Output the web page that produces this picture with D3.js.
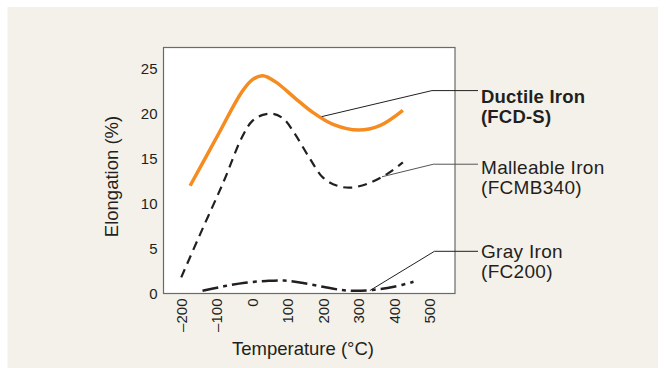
<!DOCTYPE html>
<html><head><meta charset="utf-8">
<script src="https://cdn.jsdelivr.net/npm/d3@7"></script>
<style>
body{margin:0;background:#fff}
svg{display:block}
text{font-family:"Liberation Sans",Arial,Helvetica,sans-serif;fill:#231f20}
</style>
</head><body>
<svg id="chart" width="666" height="368"></svg>
<script>
// ---- data ----
const xTicks = [-200, -100, 0, 100, 200, 300, 400, 500];
const yTicks = [0, 5, 10, 15, 20, 25];
const ductileTemp  = [-175, -100, -30, 0, 30, 65, 120, 170, 230, 300, 360, 425];
const ductileElong = [12, 17.4, 22.4, 23.8, 24.25, 23.6, 21.8, 20.2, 18.8, 18.2, 18.7, 20.4];
const malleableTemp  = [-200, -140, -80, -30, 0, 30, 60, 90, 120, 160, 200, 240, 280, 330, 380, 425];
const malleableElong = [1.8, 7.2, 12.5, 17.3, 19.2, 19.9, 20.0, 19.4, 17.8, 15.2, 12.9, 12.0, 11.8, 12.3, 13.3, 14.6];
const grayTemp  = [-140, -80, -20, 40, 90, 140, 200, 250, 290, 340, 400, 455];
const grayElong = [0.3, 0.8, 1.2, 1.4, 1.45, 1.2, 0.75, 0.4, 0.3, 0.4, 0.75, 1.3];
const seriesLabels = [["Ductile Iron", "(FCD-S)"], ["Malleable Iron", "(FCMB340)"], ["Gray Iron", "(FC200)"]];
// leader anchors (data units): point on curve, elbow
const leaderAnchorTemp  = [196, 366, 332];
const leaderAnchorElong = [19.7, 13.0, 0.33];
const leaderElbowTemp   = [507, 511, 514];
const leaderElbowElong  = [22.6, 14.4, 4.7];

// ---- layout ----
const svg = d3.select("#chart");
const L = 163.5, R = 455, T = 47.5, B = 293.5;
const x = d3.scaleLinear().domain([-250, 572]).range([L, R]);
const y = d3.scaleLinear().domain([0, 27.4]).range([B, T]);

svg.append("rect").attr("x", 7.5).attr("y", 7).attr("width", 650.5).attr("height", 361).attr("fill", "#f4f1ea");
svg.append("rect").attr("x", L).attr("y", T).attr("width", R - L).attr("height", B - T)
  .attr("fill", "#fff").attr("stroke", "#6a6a6a").attr("stroke-width", 1.2);

// y axis
const ya = svg.append("g").attr("transform", `translate(${L},0)`)
  .call(d3.axisLeft(y).tickValues(yTicks).tickSize(0).tickPadding(6));
ya.select(".domain").remove();
ya.selectAll("text").attr("font-size", 15).attr("font-family", null).attr("fill", "#231f20");

// x axis
const xa = svg.append("g").attr("transform", `translate(0,${B})`)
  .call(d3.axisBottom(x).tickValues(xTicks).tickSize(0).tickFormat(d => d < 0 ? "\u2013" + Math.abs(d) : String(d)));
xa.select(".domain").remove();
xa.selectAll("text")
  .attr("font-size", 15).attr("font-family", null).attr("fill", "#231f20")
  .attr("text-anchor", "end").attr("y", 0).attr("dy", "0.35em")
  .attr("transform", "translate(0,5) rotate(-90)");

// titles
svg.append("text").attr("x", 303).attr("y", 355).attr("text-anchor", "middle")
  .attr("font-size", 18.5).text("Temperature (°C)");
svg.append("text").attr("transform", "translate(118,176.5) rotate(-90)").attr("text-anchor", "middle")
  .attr("font-size", 18.5).text("Elongation (%)");

// lines
const line = d3.line().x(d => x(d[0])).y(d => y(d[1])).curve(d3.curveCatmullRom.alpha(0.5));
svg.append("path").datum(d3.zip(ductileTemp, ductileElong)).attr("d", line)
  .attr("fill", "none").attr("stroke", "#f68b1f").attr("stroke-width", 3.5).attr("stroke-linejoin", "round");
svg.append("path").datum(d3.zip(malleableTemp, malleableElong)).attr("d", line)
  .attr("fill", "none").attr("stroke", "#231f20").attr("stroke-width", 2.2).attr("stroke-dasharray", "9,6");
svg.append("path").datum(d3.zip(grayTemp, grayElong)).attr("d", line)
  .attr("fill", "none").attr("stroke", "#231f20").attr("stroke-width", 2.5).attr("stroke-dasharray", "16,5,4,5");

// leaders + labels
const labelX = 481, leaderEnd = 478;
const labelDy = [12.3, 10, 6.6];
seriesLabels.forEach((lab, i) => {
  const ay = y(leaderElbowElong[i]);
  svg.append("polyline")
    .attr("points", [[x(leaderAnchorTemp[i]), y(leaderAnchorElong[i])], [x(leaderElbowTemp[i]), ay], [leaderEnd, ay]].map(p => p.join(",")).join(" "))
    .attr("fill", "none").attr("stroke", i === 1 ? "#555" : "#231f20").attr("stroke-width", 1);
  const t = svg.append("text").attr("x", labelX).attr("y", ay + labelDy[i])
    .attr("font-size", i === 0 ? 18.5 : 19).attr("font-weight", i === 0 ? "bold" : "normal")
    .attr("letter-spacing", i === 0 ? 0.2 : 0.3);
  t.append("tspan").attr("x", labelX).attr("dy", 0).text(lab[0]);
  t.append("tspan").attr("x", labelX).attr("dy", 19.7).text(lab[1]);
});
</script>
</body></html>
